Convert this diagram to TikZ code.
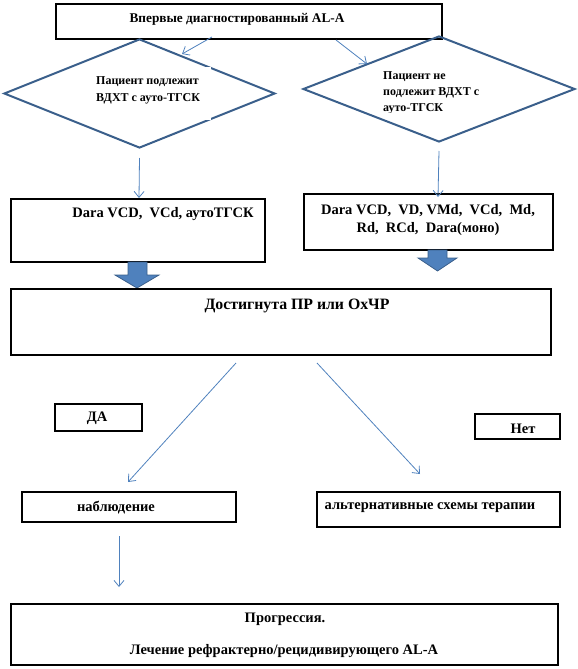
\documentclass[tikz,border=0pt]{standalone}
\usepackage{fontspec}
\setmainfont{Liberation Serif}
\usetikzlibrary{arrows.meta,shapes.geometric}
\definecolor{wordblue}{HTML}{4F81BD}
\definecolor{wordedge}{HTML}{3A5F8B}

\begin{document}
\begin{tikzpicture}[x=1pt,y=-1pt,font=\bfseries\fontsize{14.5}{18}\selectfont,
  box/.style={draw=black,line width=1.1pt,inner sep=0pt},
  txt/.style={inner sep=0pt,align=center,yshift=-1.5pt},
  small/.style={font=\bfseries\fontsize{12}{17}\selectfont},
  dia/.style={diamond,draw=wordedge,line width=2pt,inner sep=0pt},
  link/.style={wordblue,line width=0.8pt,-{Straight Barb[length=6pt,width=10pt]}},
  blockarrow/.style={fill=wordblue,draw=wordedge,line width=0.8pt}]
\useasboundingbox (0,0) rectangle (578,669);
\node[box,minimum width=386,minimum height=35] (first) at (249,21.5) {};
\node[txt,font=\bfseries\fontsize{13.3}{16}\selectfont] (firsttxt) at (237,18) {Впервые диагностированный AL-A};
\node[dia,minimum width=271,minimum height=109] (yesdia) at (139.5,93.5) {};
\fill[white] (90,67) rectangle (211,120);
\node[txt,small,align=left,anchor=west] (yestxt) at (96,88.5) {Пациент подлежит\\ВДХТ с ауто-ТГСК};
\node[dia,minimum width=272,minimum height=106] (nodia) at (439,89) {};
\begin{scope}
\clip (370,60) rectangle (500,112);
\node[txt,align=left,anchor=west,font=\bfseries\fontsize{12}{16}\selectfont] (notxt) at (383,91) {Пациент не\\подлежит ВДХТ с\\ауто-ТГСК};
\end{scope}
\coordinate (s1) at (212,37);
\coordinate (e1) at (182,54);
\coordinate (s2) at (336,40);
\coordinate (e2) at (367,64);
\draw[link] (s1) -- (e1);
\draw[link] (s2) -- (e2);
\node[box,minimum width=254,minimum height=63] (yesbox) at (138,230.5) {};
\node[txt] (yesboxtxt) at (163,213) {Dara VCD,\ \ VCd, аутоТГСК};
\node[box,minimum width=249,minimum height=56] (nobox) at (428.5,222) {};
\node[txt] (noboxtxt) at (428,219) {Dara VCD,\ \ VD, VMd,\ \ VCd,\ \ Md,\\Rd,\ \ RCd,\ \ Dara(моно)};
\coordinate (e3) at (139,198);
\coordinate (e4) at (438,197);
\draw[link] (yesdia.south) ++(0,9) -- (e3);
\draw[link] (nodia.south) ++(0,8) -- (e4);
\draw[blockarrow] (128,262) -- (147,262) -- (147,275) -- (159,275) -- (137,288) -- (115,275) -- (128,275) -- cycle;
\draw[blockarrow] (428,250) -- (447,250) -- (447,258) -- (457,258) -- (437.5,271) -- (418,258) -- (428,258) -- cycle;
\node[box,minimum width=540,minimum height=66] (resp) at (281,322) {};
\node[txt,font=\bfseries\fontsize{15.8}{18}\selectfont] (resptxt) at (297,304) {Достигнута ПР или ОхЧР};
\node[box,minimum width=87,minimum height=27] (yes) at (98.5,417.5) {};
\node[txt] (yestag) at (97,417) {ДА};
\node[box,minimum width=85,minimum height=25] (no) at (517.5,426.5) {};
\node[txt] (notag) at (523,427) {Нет};
\coordinate (s5) at (236,363);
\coordinate (e5) at (128,482);
\coordinate (s6) at (317,363);
\coordinate (e6) at (420,474);
\draw[link] (s5) -- (e5);
\draw[link] (s6) -- (e6);
\node[box,minimum width=214,minimum height=30] (watch) at (129,507) {};
\node[txt] (watchtxt) at (116,506) {наблюдение};
\node[box,minimum width=243,minimum height=35] (alt) at (438.5,509.5) {};
\node[txt] (alttxt) at (430,506) {альтернативные схемы терапии};
\coordinate (s7) at (119,536);
\coordinate (e7) at (119,587);
\draw[link] (s7) -- (e7);
\node[box,minimum width=547,minimum height=61] (prog) at (284.5,634.5) {};
\node[txt] (progtxt) at (285,618) {Прогрессия.};
\node[txt] (progtxt2) at (284,650) {Лечение рефрактерно/рецидивирующего AL-A};
\end{tikzpicture}
\end{document}
